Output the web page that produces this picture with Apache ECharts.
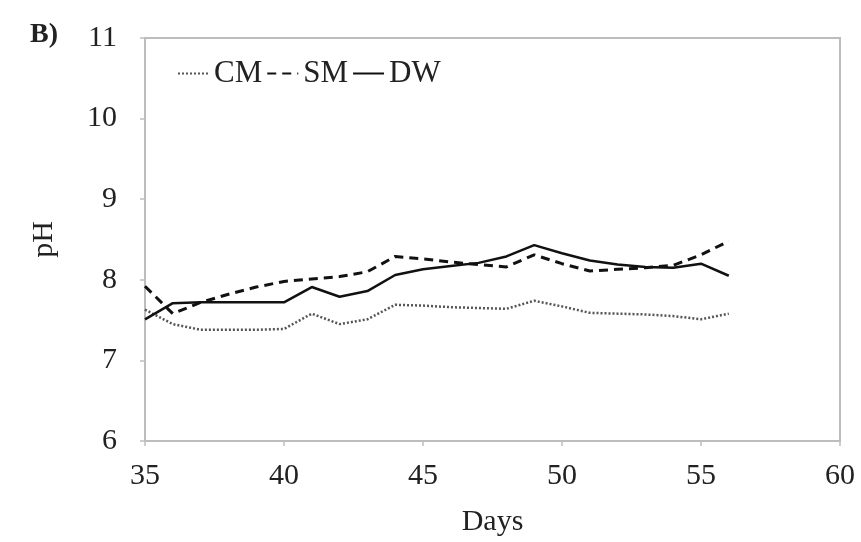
<!DOCTYPE html>
<html>
<head>
<meta charset="utf-8">
<script src="https://cdn.jsdelivr.net/npm/echarts@6/dist/echarts.min.js"></script>
<style>html,body{margin:0;padding:0;background:#fff}#c{width:861px;height:542px}</style>
</head>
<body>
<div id="c"></div>
<script>
const days = [35,36,37,38,39,40,41,42,43,44,45,46,47,48,49,50,51,52,53,54,55,56];
const CM = [7.63,7.45,7.38,7.38,7.38,7.39,7.58,7.45,7.51,7.69,7.68,7.66,7.65,7.64,7.74,7.67,7.59,7.58,7.57,7.55,7.51,7.58];
const SM = [7.92,7.58,7.72,7.82,7.91,7.98,8.01,8.04,8.10,8.29,8.26,8.22,8.19,8.16,8.31,8.20,8.11,8.13,8.15,8.18,8.31,8.48];
const DW = [7.51,7.71,7.72,7.72,7.72,7.72,7.91,7.79,7.86,8.06,8.13,8.17,8.21,8.29,8.43,8.33,8.24,8.19,8.16,8.15,8.20,8.05];
const xTicks = [35,40,45,50,55,60];
const yTicks = [6,7,8,9,10,11];

const FONT = '"Liberation Serif", "Times New Roman", serif';
const pair = arr => days.map((d,i)=>[d, arr[i]]);
const chart = echarts.init(document.getElementById('c'), null, {renderer:'canvas'});
chart.setOption({
  animation:false,
  backgroundColor:'#fff',
  grid:{left:145, right:21, top:38, bottom:100, show:true, borderColor:'#bdbdbd', borderWidth:2, containLabel:false},
  graphic:[{type:'text', left:30, top:21, style:{text:'B)', font:'bold 28px '+FONT, fill:'#222'}}],
  legend:{
    left:177, top:58, padding:0, itemWidth:31, itemHeight:14, itemGap:4,
    itemStyle:{opacity:0},
    textStyle:{fontFamily:FONT, fontSize:31, color:'#222'},
    data:['CM','SM','DW']
  },
  xAxis:{
    type:'value', min:35, max:60, interval:5,
    name:'Days', nameLocation:'middle', nameGap:66,
    nameTextStyle:{fontFamily:FONT, fontSize:30, color:'#222'},
    axisLine:{lineStyle:{color:'#bdbdbd', width:2}},
    axisTick:{show:true, length:5, lineStyle:{color:'#bdbdbd', width:1.5}},
    axisLabel:{fontFamily:FONT, fontSize:30, color:'#222', margin:20,
      formatter: v => xTicks.includes(v) ? String(v) : ''},
    splitLine:{show:false}
  },
  yAxis:{
    type:'value', min:6, max:11, interval:1,
    name:'pH', nameLocation:'middle', nameGap:86, nameRotate:90,
    nameTextStyle:{fontFamily:FONT, fontSize:30, color:'#222'},
    axisLine:{show:true, lineStyle:{color:'#bdbdbd', width:2}},
    axisTick:{show:true, length:5, lineStyle:{color:'#bdbdbd', width:1.5}},
    axisLabel:{fontFamily:FONT, fontSize:30, color:'#222', margin:28,
      formatter: v => yTicks.includes(v) ? String(v) : ''},
    splitLine:{show:false}
  },
  series:[
    {name:'CM', type:'line', data:pair(CM), showSymbol:false, symbol:'none',
     lineStyle:{color:'#555', width:2.5, type:[2,2]}, itemStyle:{color:'#555'}},
    {name:'SM', type:'line', data:pair(SM), showSymbol:false, symbol:'none',
     lineStyle:{color:'#111', width:3, type:[9,6]}, itemStyle:{color:'#111'}},
    {name:'DW', type:'line', data:pair(DW), showSymbol:false, symbol:'none',
     lineStyle:{color:'#111', width:2.5, type:'solid'}, itemStyle:{color:'#111'}}
  ]
});
</script>
</body>
</html>
